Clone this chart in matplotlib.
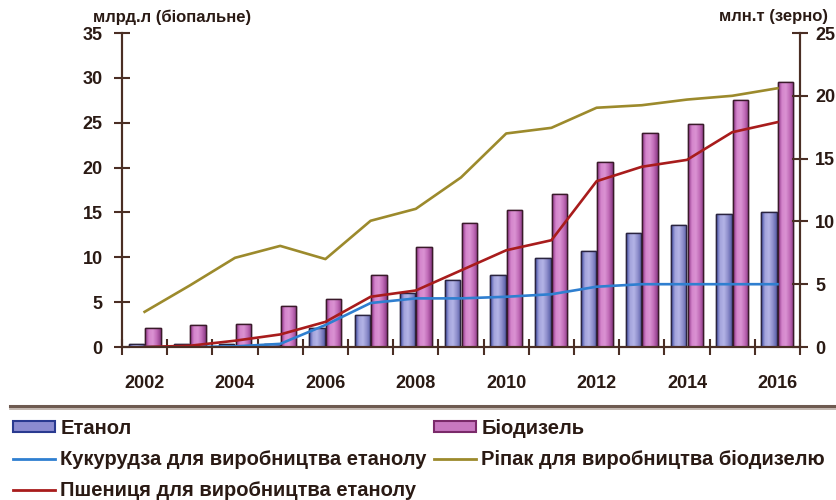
import matplotlib
matplotlib.use("Agg")
import matplotlib.pyplot as plt
import numpy as np
from matplotlib.lines import Line2D
from matplotlib.patches import Patch
from matplotlib.colors import LinearSegmentedColormap

plt.rcParams['font.family'] = ['Liberation Sans', 'DejaVu Sans']
plt.rcParams['font.weight'] = 'bold'

years = list(range(2002, 2017))
ethanol = [0.3, 0.3, 0.3, 0.3, 2.1, 3.6, 6.0, 7.5, 8.0, 9.9, 10.7, 12.7, 13.6, 14.8, 15.0]
biodiesel = [2.1, 2.4, 2.6, 4.6, 5.4, 8.0, 11.1, 13.8, 15.3, 17.1, 20.6, 23.9, 24.9, 27.5, 29.5]
corn = [0.0, 0.0, 0.05, 0.25, 1.75, 3.5, 3.87, 3.87, 4.0, 4.2, 4.8, 5.0, 5.0, 5.0, 5.0]
rapeseed = [2.8, 4.9, 7.1, 8.05, 7.0, 10.05, 11.0, 13.5, 17.0, 17.45, 19.05, 19.25, 19.7, 20.0, 20.6]
wheat = [0.0, 0.1, 0.5, 1.0, 2.0, 4.0, 4.5, 6.1, 7.7, 8.5, 13.2, 14.35, 14.9, 17.1, 17.9]

left_ticks = [0, 5, 10, 15, 20, 25, 30, 35]
right_ticks = [0, 5, 10, 15, 20, 25]

lbl_eth = "Етанол"
lbl_bio = "Біодизель"
lbl_corn = "Кукурудза для виробництва етанолу"
lbl_rape = "Ріпак для виробництва біодизелю"
lbl_wheat = "Пшениця для виробництва етанолу"

txt = '#2a1a14'
spine_c = '#4a2e24'
c_eth = '#9a9ad8'
c_bio = '#c872be'
c_corn = '#2f7fd0'
c_rape = '#9c8a2c'
c_wheat = '#a81c1c'

cm_eth = LinearSegmentedColormap.from_list('eth', ['#3a48a0', '#a4a4dc', '#b4b4e6', '#8e8ecc', '#5a60a8'])
cm_bio = LinearSegmentedColormap.from_list('bio', ['#8a2e84', '#d586cc', '#da92d2', '#c06ab6', '#8a3a86'])
grad = np.linspace(0, 1, 64).reshape(1, -1)

fig = plt.figure(figsize=(8.37, 5.0), dpi=100)
fig.patch.set_facecolor('white')
ax = fig.add_axes([122/837, 1-347/500, (800-122)/837, (347-33)/500])
ax2 = ax.twinx()

x = np.arange(len(years))
w = 0.34
bars_e = ax.bar(x - 0.185, ethanol, w, color=c_eth, edgecolor='#2a2440', linewidth=1.0, zorder=2)
bars_b = ax.bar(x + 0.185, biodiesel, w, color=c_bio, edgecolor='#3a1a2a', linewidth=1.0, zorder=2)
for bars, cm in ((bars_e, cm_eth), (bars_b, cm_bio)):
    for b in bars:
        x0, y0 = b.get_x(), b.get_y()
        im = ax.imshow(grad, cmap=cm, aspect='auto', zorder=2.5,
                       extent=(x0, x0 + b.get_width(), y0, y0 + b.get_height()))
        im.set_clip_path(b)
        edge = plt.Rectangle((x0, y0), b.get_width(), b.get_height(), fill=False,
                             edgecolor=b.get_edgecolor(), linewidth=1.0, zorder=2.6)
        ax.add_patch(edge)

ax2.plot(x, rapeseed, color=c_rape, lw=1.9)
ax2.plot(x, corn, color=c_corn, lw=1.9)
ax2.plot(x, wheat, color=c_wheat, lw=1.9)

ax.set_xlim(-0.5, len(years) - 0.5)
ax.set_ylim(0, 35)
ax2.set_ylim(0, 25)
ax.set_yticks(left_ticks)
ax2.set_yticks(right_ticks)

for a in (ax, ax2):
    a.spines['top'].set_visible(False)
    for s in ('left', 'right', 'bottom'):
        a.spines[s].set_color(spine_c)
        a.spines[s].set_linewidth(1.5)
    a.set_facecolor('none')

ax.set_xticks(np.arange(len(years) + 1) - 0.5)
ax.set_xticklabels([])
ax.set_xticks(x[::2], [str(y) for y in years[::2]], minor=True)
ax.tick_params(axis='x', which='major', direction='inout', length=12, width=1.5, color=spine_c)
ax.tick_params(axis='x', which='minor', length=0, pad=20, labelsize=13, labelcolor=txt)
ax.tick_params(axis='y', direction='inout', length=12, width=1.5, color=spine_c, labelsize=13, labelcolor=txt, pad=8)
ax2.tick_params(axis='y', direction='inout', length=12, width=1.5, color=spine_c, labelsize=13, labelcolor=txt, pad=5)
for lab in ax.get_xticklabels(minor=True) + ax.get_yticklabels() + ax2.get_yticklabels():
    lab.set_fontweight('bold')

fig.text(93/837, 1-17/500, "млрд.л (біопальне)", ha='left', va='center', fontsize=12, fontweight='bold', color=txt)
fig.text(828/837, 1-17/500, "млн.т (зерно)", ha='right', va='center', fontsize=12, fontweight='bold', color=txt)

fig.add_artist(Line2D([10/837, 1.0], [1-406/500, 1-406/500], transform=fig.transFigure, color='#6e5a50', lw=2.2))
fig.add_artist(Line2D([10/837, 1.0], [1-408.5/500, 1-408.5/500], transform=fig.transFigure, color='#b8aaa2', lw=1.2))

handles = [Patch(facecolor='#8c8cd0', edgecolor='#2a3a90', linewidth=1.5),
           Line2D([], [], color=c_corn, lw=2.0),
           Line2D([], [], color=c_wheat, lw=2.0),
           Patch(facecolor='#c878c0', edgecolor='#7a2a6a', linewidth=1.5),
           Line2D([], [], color=c_rape, lw=2.0)]
labels = [lbl_eth, lbl_corn, lbl_wheat, lbl_bio, lbl_rape]
fs = 14.5
leg = fig.legend(handles, labels, loc='upper left', bbox_to_anchor=(13/837, 1-419/500), ncol=2,
                 frameon=False, handlelength=2.1, handleheight=0.45, handletextpad=0.25,
                 columnspacing=0.35, labelspacing=0.6, borderpad=0, borderaxespad=0,
                 prop={'weight': 'bold', 'size': fs})
for t in leg.get_texts():
    t.set_color(txt)

fig.savefig('out.png', dpi=100)
